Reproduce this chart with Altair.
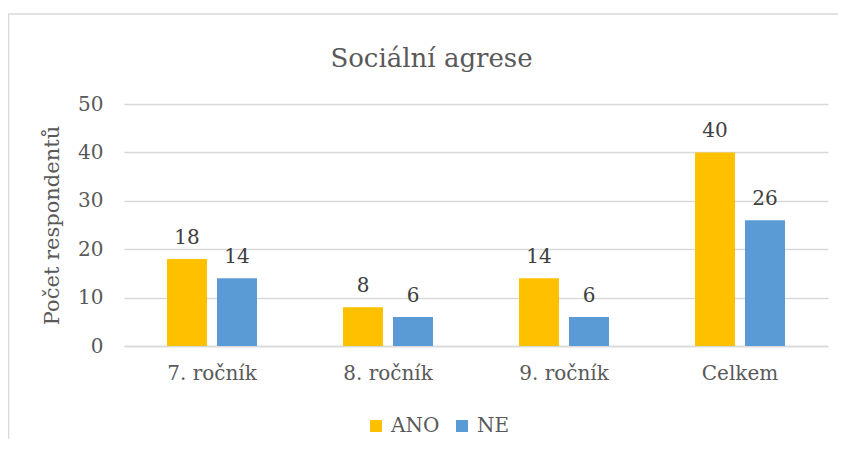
import altair as alt
import pandas as pd

categories = ["7. ročník", "8. ročník", "9. ročník", "Celkem"]
series = ["ANO", "NE"]
ano_values = [18, 8, 14, 40]
ne_values = [14, 6, 6, 26]
y_ticks = [0, 10, 20, 30, 40, 50]
colors = ["#FFC000", "#5B9BD5"]

rows = []
for c, a, n in zip(categories, ano_values, ne_values):
    rows.append({"kategorie": c, "odpoved": "ANO", "pocet": a})
    rows.append({"kategorie": c, "odpoved": "NE", "pocet": n})
df = pd.DataFrame(rows)

FONT = "DejaVu Serif"
GREY = "#595959"
LINE = "#D9D9D9"

x_enc = alt.X("kategorie:N", sort=categories,
              scale=alt.Scale(paddingInner=0.4886, paddingOuter=0.2443),
              axis=alt.Axis(title=None, labelAngle=0, labelFontSize=20, labelFont=FONT,
                            labelColor=GREY, labelPadding=17, ticks=False,
                            domainColor=LINE, domainWidth=1.5))
xoff_enc = alt.XOffset("odpoved:N", sort=series,
                       scale=alt.Scale(paddingInner=0.2, paddingOuter=0))
y_enc = alt.Y("pocet:Q", scale=alt.Scale(domain=[0, 50]),
              axis=alt.Axis(title="Počet respondentů", values=y_ticks,
                            titleFontSize=21, titleFontWeight="normal", titleColor=GREY,
                            titleFont=FONT,
                            titlePadding=15, labelFontSize=20, labelFont=FONT,
                            labelColor=GREY, labelPadding=21, ticks=False, domain=False,
                            gridColor=LINE, gridWidth=1.5))

bars = alt.Chart(df).mark_bar().encode(
    x=x_enc,
    xOffset=xoff_enc,
    y=y_enc,
    color=alt.Color("odpoved:N", sort=series,
                    scale=alt.Scale(domain=series, range=colors),
                    legend=alt.Legend(title=None, orient="none", legendX=242, legendY=312,
                                      direction="horizontal", symbolType="square",
                                      symbolSize=144, symbolStrokeWidth=0,
                                      labelFontSize=20, labelColor=GREY, labelFont=FONT,
                                      labelOffset=5, columnPadding=12, padding=0)),
)

labels = alt.Chart(df).mark_text(fontSize=20, color="#404040", font=FONT,
                                 baseline="alphabetic", dy=-15).encode(
    x=alt.X("kategorie:N", sort=categories),
    xOffset=alt.XOffset("odpoved:N", sort=series),
    y="pocet:Q",
    text="pocet:Q",
)

border = alt.Chart(pd.DataFrame({"a": [0]})).mark_rect(
    fillOpacity=0, stroke=LINE, strokeWidth=1.5
).encode(x=alt.value(-115.5), x2=alt.value(760), y=alt.value(-90), y2=alt.value(400))

chart = alt.layer(border, bars, labels).properties(
    width=704,
    height=242,
    title=alt.TitleParams("Sociální agrese", fontSize=26, fontWeight="normal", font=FONT,
                          color=GREY, anchor="middle", dx=-44.5, offset=-80,
                          baseline="alphabetic"),
    autosize=alt.AutoSizeParams(type="none"),
    padding={"left": 116, "top": 96, "right": 10, "bottom": 93},
).configure(
    background="white"
).configure_view(
    stroke=None
)

chart.save("out.html", embed_options={"renderer": "svg", "actions": False})
